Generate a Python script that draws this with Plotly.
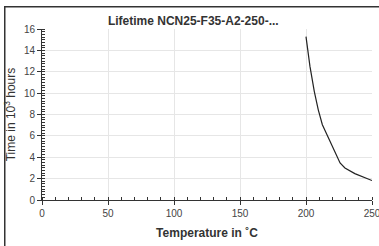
import plotly.graph_objects as go

temperature = [200, 203, 206.3, 209.3, 212.4, 216.9, 222, 225.8, 229.5, 237, 250]
time_khours = [15.28, 12.5, 10.15, 8.44, 7.04, 5.8, 4.55, 3.47, 3.0, 2.47, 1.82]

x_ticks = [0, 50, 100, 150, 200, 250]
y_ticks = [0, 2, 4, 6, 8, 10, 12, 14, 16]

FONT = "Liberation Sans, Arial, Helvetica, sans-serif"

fig = go.Figure()
fig.add_trace(go.Scatter(
    x=temperature, y=time_khours, mode="lines",
    line=dict(color="#222222", width=1.2), hoverinfo="skip", showlegend=False,
))

fig.update_layout(
    width=379, height=246,
    margin=dict(l=42, r=7, t=29, b=46, autoexpand=False),
    paper_bgcolor="white", plot_bgcolor="white",
    font=dict(family=FONT, size=10, color="#333333"),
    title=dict(text="<b>Lifetime NCN25-F35-A2-250-...</b>", x=0.51, xref="container",
               y=0.915, yref="container", xanchor="center", yanchor="middle",
               font=dict(size=12, color="#333333"), automargin=False),
    showlegend=False,
)

fig.update_xaxes(
    range=[0, 250], tickvals=x_ticks, ticktext=[str(v) for v in x_ticks],
    showgrid=True, gridcolor="#e6e6e6", gridwidth=1,
    showline=True, linecolor="#333333", linewidth=1,
    ticks="outside", ticklen=4, tickcolor="#333333",
    minor=dict(dtick=10, ticks="inside", ticklen=3, tickcolor="#333333", showgrid=False),
    tickfont=dict(size=10, color="#444444"), ticklabeloverflow="allow",
    title=dict(text="<b>Temperature in ˚C</b>", font=dict(size=12, color="#333333"), standoff=10),
    zeroline=False, fixedrange=True, automargin=False,
)
fig.update_yaxes(
    range=[0, 16], tickvals=y_ticks, ticktext=[str(v) for v in y_ticks],
    showgrid=True, gridcolor="#e6e6e6", gridwidth=1,
    showline=True, linecolor="#333333", linewidth=1,
    ticks="outside", ticklen=4, tickcolor="#333333",
    minor=dict(dtick=0.25, ticks="inside", ticklen=3, tickcolor="#333333", showgrid=False),
    tickfont=dict(size=10, color="#444444"),
    title=dict(text="Time in 10<sup>3</sup> hours", font=dict(size=12, color="#333333"), standoff=5),
    zeroline=False, fixedrange=True, automargin=False,
)

# outer frame: left and top edges of a border box (drawn as an empty bordered annotation)
fig.add_annotation(
    xref="paper", yref="paper", x=-0.1152, y=1.136, xanchor="left", yanchor="top",
    text=" ", showarrow=False, width=420, height=300,
    bordercolor="#333333", borderwidth=1.5, borderpad=0, bgcolor="rgba(0,0,0,0)",
)

fig.write_html(
    "out.html",
    config={"displayModeBar": False},
    post_script="document.body.style.margin='0';document.body.style.overflow='hidden';",
)
